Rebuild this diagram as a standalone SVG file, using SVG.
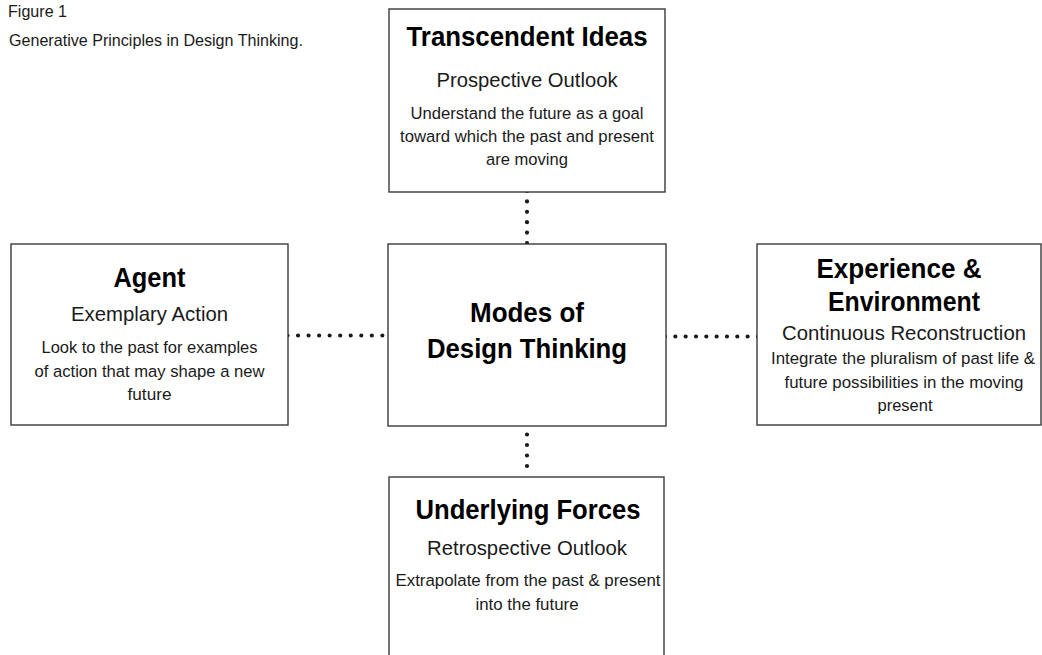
<svg xmlns="http://www.w3.org/2000/svg" width="1042" height="655" viewBox="0 0 1042 655">
  <style>
    .box { fill: #ffffff; stroke: #3a3a3a; stroke-width: 1.4; }
    .dots { fill: none; stroke: #1a1a1a; stroke-width: 4.2; stroke-linecap: round; }
    text { font-family: "Liberation Sans", Arial, sans-serif; text-anchor: middle; fill: #1a1a1a; }
    .title { font-weight: bold; font-size: 27px; fill: #000000; }
    .sub { font-size: 20.8px; }
    .body { font-size: 17.2px; }
    .cap { font-size: 16.6px; text-anchor: start; }
  </style>

  <rect width="1042" height="655" fill="#ffffff"/>

  <!-- caption -->
  <g id="caption">
    <text class="cap" x="8" y="17" textLength="59" lengthAdjust="spacingAndGlyphs">Figure 1</text>
    <text class="cap" x="9" y="46" textLength="294" lengthAdjust="spacingAndGlyphs">Generative Principles in Design Thinking.</text>
  </g>

  <!-- dotted links between the central box and the four outer boxes -->
  <g id="connectors">
    <path class="dots" d="M527 191 V243" stroke-dasharray="0 10.4"/>
    <path class="dots" d="M527 424 V476.5" stroke-dasharray="0 10.5"/>
    <path class="dots" d="M287.5 335.5 H392.9" stroke-dasharray="0 10.54"/>
    <path class="dots" d="M665 336.5 H758" stroke-dasharray="0 10.33"/>
  </g>

  <g id="transcendent-ideas">
    <rect class="box" x="389" y="9" width="276" height="183"/>
    <text class="title" x="527" y="46" textLength="241" lengthAdjust="spacingAndGlyphs">Transcendent Ideas</text>
    <text class="sub" x="527" y="87" textLength="181" lengthAdjust="spacingAndGlyphs">Prospective Outlook</text>
    <text class="body" x="527" y="119" textLength="233" lengthAdjust="spacingAndGlyphs">Understand the future as a goal</text>
    <text class="body" x="527" y="142" textLength="254" lengthAdjust="spacingAndGlyphs">toward which the past and present</text>
    <text class="body" x="527" y="165" textLength="82" lengthAdjust="spacingAndGlyphs">are moving</text>
  </g>

  <g id="agent">
    <rect class="box" x="11" y="244" width="277" height="181"/>
    <text class="title" x="149.5" y="287" textLength="72" lengthAdjust="spacingAndGlyphs">Agent</text>
    <text class="sub" x="149.5" y="321" textLength="157" lengthAdjust="spacingAndGlyphs">Exemplary Action</text>
    <text class="body" x="149.5" y="353" textLength="216" lengthAdjust="spacingAndGlyphs">Look to the past for examples</text>
    <text class="body" x="149.5" y="377" textLength="230" lengthAdjust="spacingAndGlyphs">of action that may shape a new</text>
    <text class="body" x="149.5" y="400" textLength="44" lengthAdjust="spacingAndGlyphs">future</text>
  </g>

  <g id="modes-of-design-thinking">
    <rect class="box" x="388" y="244" width="278" height="182"/>
    <text class="title" x="527" y="322" textLength="114" lengthAdjust="spacingAndGlyphs">Modes of</text>
    <text class="title" x="527" y="358" textLength="200" lengthAdjust="spacingAndGlyphs">Design Thinking</text>
  </g>

  <g id="experience-environment">
    <rect class="box" x="757" y="244" width="284" height="181"/>
    <text class="title" x="899" y="278" textLength="165" lengthAdjust="spacingAndGlyphs">Experience &amp;</text>
    <text class="title" x="904" y="311" textLength="152" lengthAdjust="spacingAndGlyphs">Environment</text>
    <text class="sub" x="904" y="340" textLength="244" lengthAdjust="spacingAndGlyphs">Continuous Reconstruction</text>
    <text class="body" x="903" y="364" textLength="264" lengthAdjust="spacingAndGlyphs">Integrate the pluralism of past life &amp;</text>
    <text class="body" x="904" y="388" textLength="239" lengthAdjust="spacingAndGlyphs">future possibilities in the moving</text>
    <text class="body" x="905" y="411" textLength="55" lengthAdjust="spacingAndGlyphs">present</text>
  </g>

  <g id="underlying-forces">
    <rect class="box" x="389" y="477" width="275" height="200"/>
    <text class="title" x="528" y="519" textLength="225" lengthAdjust="spacingAndGlyphs">Underlying Forces</text>
    <text class="sub" x="527" y="555" textLength="200" lengthAdjust="spacingAndGlyphs">Retrospective Outlook</text>
    <text class="body" x="528" y="586" textLength="265" lengthAdjust="spacingAndGlyphs">Extrapolate from the past &amp; present</text>
    <text class="body" x="527" y="610" textLength="103" lengthAdjust="spacingAndGlyphs">into the future</text>
  </g>
</svg>
